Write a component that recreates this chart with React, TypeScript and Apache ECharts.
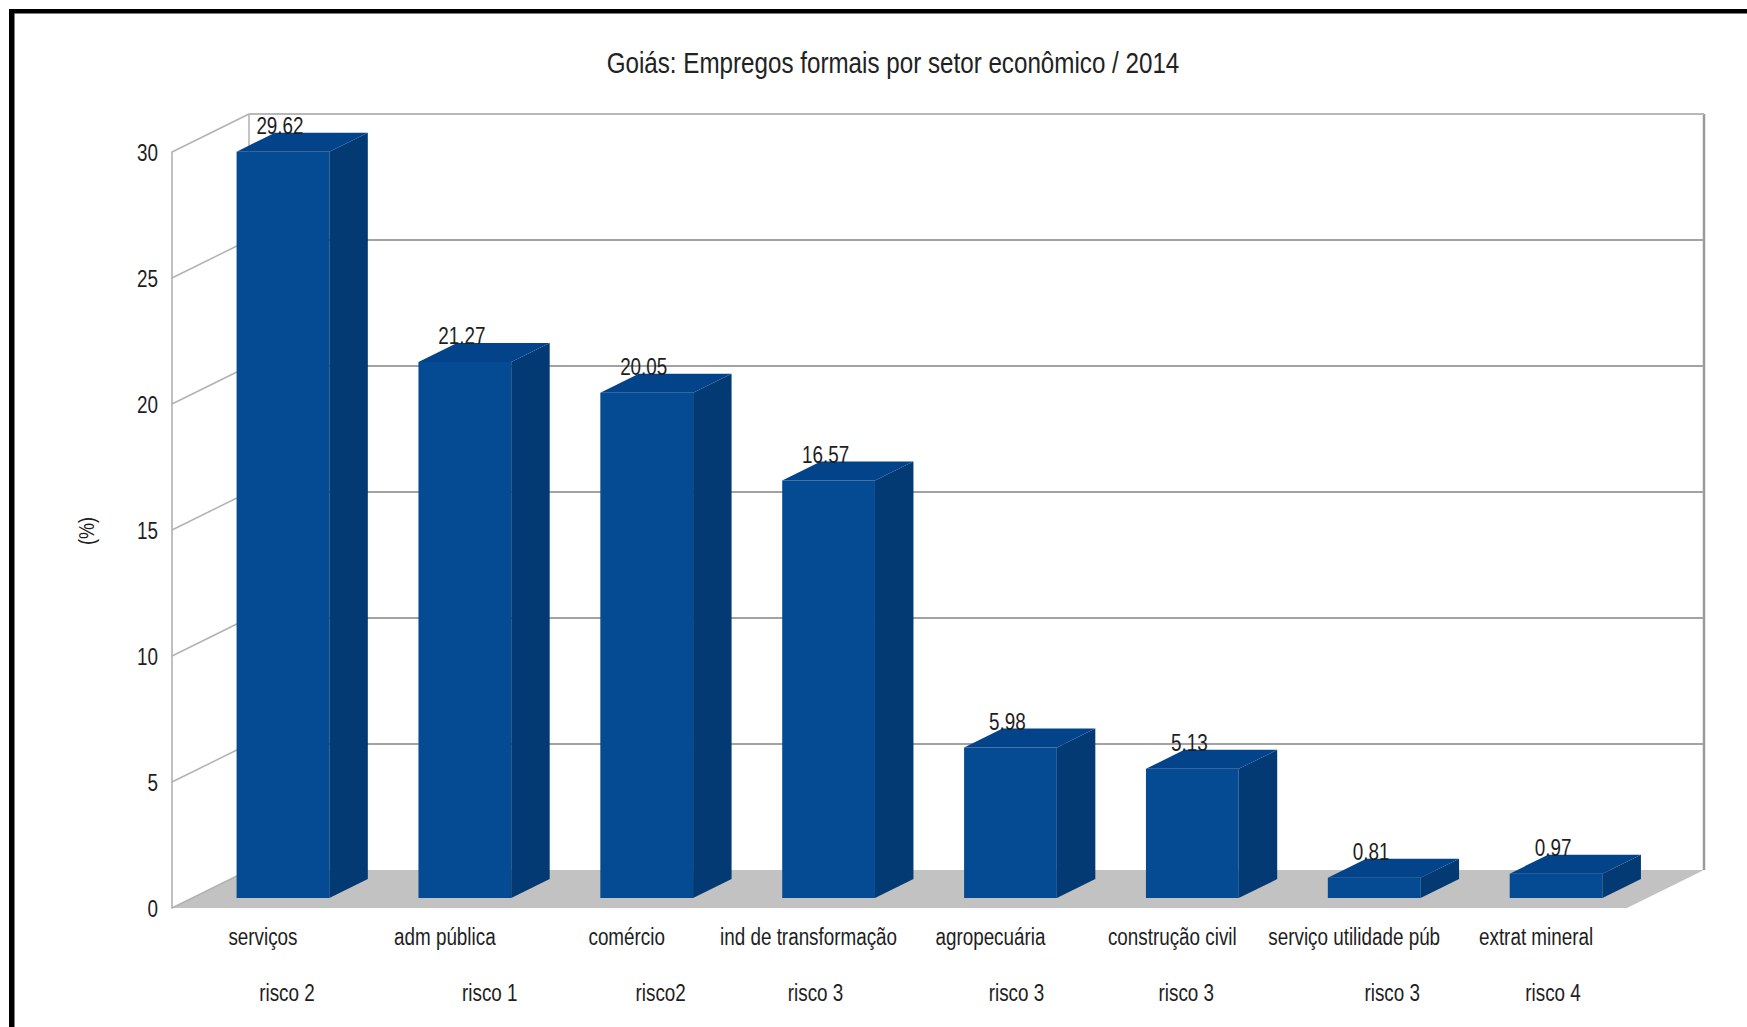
import React, { useEffect, useRef } from "react";
import * as echarts from "echarts";

// ---------- data ----------
const titleText = "Goiás: Empregos formais por setor econômico / 2014";
const yAxisName = "(%)";
const categories = [
  "serviços",
  "adm pública",
  "comércio",
  "ind de transformação",
  "agropecuária",
  "construção civil",
  "serviço utilidade púb",
  "extrat mineral",
];
const riskLabels = ["risco 2", "risco 1", "risco2", "risco 3", "risco 3", "risco 3", "risco 3", "risco 4"];
const values = [29.62, 21.27, 20.05, 16.57, 5.98, 5.13, 0.81, 0.97];
const yTicks = [0, 5, 10, 15, 20, 25, 30];

// ---------- style ----------
const W = 1747;
const H = 1027;
const FONT = "'Liberation Sans', Arial, sans-serif";
const NARROW = 0.82; // horizontal squeeze to mimic a narrow face
const FS = 23;
const TEXT_COLOR = "#1e1e1e";
const DX = 77; // depth offset of the 3D box (x)
const DY = 38; // depth offset of the 3D box (y)
const BAR_FRONT = 0.26; // bar front plane as fraction of depth
const BAR_DEPTH = 0.5; // bar depth as fraction of depth
const BAR_WIDTH = 0.51; // fraction of category band
const FRONT = "#044b93";
const SIDE = "#033a74";
const TOP = "#03438a";
const RISK_SHIFT = [24, 45, 34, 7, 26, 14, 38, 17];
const CAT_LABEL_GAP = 29;
const RISK_LABEL_GAP = 85;
const VALUE_LABEL_SHIFT = -3;

function narrowText(x: number, y: number, text: string, align: string, extra: any = {}) {
  return {
    type: "text",
    x,
    y,
    scaleX: NARROW,
    style: {
      x: 0,
      y: 0,
      text,
      textAlign: align,
      textVerticalAlign: "middle",
      fontSize: FS,
      fontFamily: FONT,
      fill: TEXT_COLOR,
      ...extra,
    },
  };
}

export default function App() {
  const ref = useRef<HTMLDivElement>(null);

  useEffect(() => {
    if (!ref.current) return;
    const chart = echarts.init(ref.current, undefined, { renderer: "svg" });
    const yMax = yTicks[yTicks.length - 1];

    const option: any = {
      animation: false,
      backgroundColor: "#ffffff",
      grid: { left: 172, right: 120, top: 152, bottom: 119, containLabel: false },
      xAxis: {
        type: "category",
        data: categories,
        axisLine: { show: false },
        axisTick: { show: false },
        splitLine: { show: false },
        axisLabel: { show: false },
      },
      yAxis: {
        type: "value",
        min: 0,
        max: yMax,
        interval: 5,
        axisLine: { show: true, lineStyle: { color: "#ababab", width: 1.5 } },
        axisTick: { show: false },
        splitLine: { show: false },
        axisLabel: { show: false },
      },
      graphic: [
        {
          type: "text",
          x: 893,
          y: 63,
          scaleX: NARROW,
          style: {
            x: 0,
            y: 0,
            text: titleText,
            textAlign: "center",
            textVerticalAlign: "middle",
            fontSize: 29.5,
            fontFamily: FONT,
            fill: "#222",
          },
        },
        {
          type: "text",
          x: 86,
          y: 531,
          rotation: Math.PI / 2,
          scaleX: NARROW,
          style: {
            x: 0,
            y: 0,
            text: yAxisName,
            textAlign: "center",
            textVerticalAlign: "middle",
            fontSize: 22,
            fontFamily: FONT,
            fill: TEXT_COLOR,
          },
        },
        { type: "rect", left: 9, top: 9, shape: { width: W, height: 4.5 }, style: { fill: "#000" }, z: 100 },
        { type: "rect", left: 9, top: 9, shape: { width: 5.5, height: H }, style: { fill: "#000" }, z: 100 },
      ],
      series: [
        {
          // floor and wall edges
          type: "custom",
          silent: true,
          clip: false,
          z: 1,
          data: [[0, 0]],
          encode: { x: 0, y: 1 },
          renderItem: (params: any, api: any) => {
            const cs = params.coordSys;
            const x0 = cs.x;
            const x1 = cs.x + cs.width;
            const yb = api.coord([0, 0])[1];
            const yt = api.coord([0, yMax])[1];
            return {
              type: "group",
              children: [
                {
                  type: "polygon",
                  shape: { points: [[x0, yb], [x1, yb], [x1 + DX, yb - DY], [x0 + DX, yb - DY]] },
                  style: { fill: "#c2c2c2" },
                },
                {
                  type: "line",
                  shape: { x1: x0 + DX, y1: yt - DY, x2: x0 + DX, y2: yb - DY },
                  style: { stroke: "#b2b2b2", lineWidth: 1.5 },
                },
                {
                  type: "line",
                  shape: { x1: x1 + DX, y1: yt - DY, x2: x1 + DX, y2: yb - DY },
                  style: { stroke: "#9a9a9a", lineWidth: 2.5 },
                },
              ],
            };
          },
        },
        {
          // gridlines on side and back walls + tick labels
          type: "custom",
          silent: true,
          clip: false,
          z: 2,
          data: yTicks.map((v) => [0, v]),
          encode: { x: 0, y: 1 },
          renderItem: (params: any, api: any) => {
            const cs = params.coordSys;
            const v = api.value(1);
            const y = api.coord([0, v])[1];
            const x0 = cs.x;
            const x1 = cs.x + cs.width;
            const children: any[] = [
              {
                type: "line",
                shape: { x1: x0, y1: y, x2: x0 + DX, y2: y - DY },
                style: { stroke: "#b2b2b2", lineWidth: 1.5 },
              },
              narrowText(x0 - 14, y + 1, String(v), "right"),
            ];
            if (v > 0) {
              children.push({
                type: "line",
                shape: { x1: x0 + DX, y1: y - DY, x2: x1 + DX, y2: y - DY },
                style: { stroke: v === yMax ? "#b8b8b8" : "#a2a2a2", lineWidth: 2 },
              });
            }
            return { type: "group", children };
          },
        },
        {
          // 3D bars, value labels and category labels
          type: "custom",
          silent: true,
          clip: false,
          z: 3,
          data: values.map((v, i) => [i, v]),
          encode: { x: 0, y: 1 },
          renderItem: (params: any, api: any) => {
            const i = api.value(0);
            const v = api.value(1);
            const base = api.coord([i, 0]);
            const top = api.coord([i, v]);
            const band = api.size([1, 0])[0];
            const w = band * BAR_WIDTH;
            const ox = DX * BAR_FRONT;
            const oy = DY * BAR_FRONT;
            const bx = DX * BAR_DEPTH;
            const by = DY * BAR_DEPTH;
            const xl = base[0] - w / 2 + ox;
            const xr = base[0] + w / 2 + ox;
            const yt = top[1] - oy;
            const yb = base[1] - oy;
            return {
              type: "group",
              children: [
                { type: "rect", shape: { x: xl, y: yt, width: w, height: yb - yt }, style: { fill: FRONT } },
                {
                  type: "polygon",
                  shape: { points: [[xr, yt], [xr + bx, yt - by], [xr + bx, yb - by], [xr, yb]] },
                  style: { fill: SIDE },
                },
                {
                  type: "polygon",
                  shape: { points: [[xl, yt], [xl + bx, yt - by], [xr + bx, yt - by], [xr, yt]] },
                  style: { fill: TOP },
                },
                narrowText((xl + xr) / 2 + VALUE_LABEL_SHIFT, yt - by - 7, values[i].toFixed(2), "center"),
                narrowText(base[0], base[1] + CAT_LABEL_GAP, categories[i], "center"),
                narrowText(base[0] + RISK_SHIFT[i], base[1] + RISK_LABEL_GAP, riskLabels[i], "center"),
              ],
            };
          },
        },
      ],
    };

    chart.setOption(option);
    return () => chart.dispose();
  }, []);

  return (
    <div
      ref={ref}
      style={{ position: "fixed", left: 0, top: 0, width: W, height: H, background: "#fff" }}
    />
  );
}
